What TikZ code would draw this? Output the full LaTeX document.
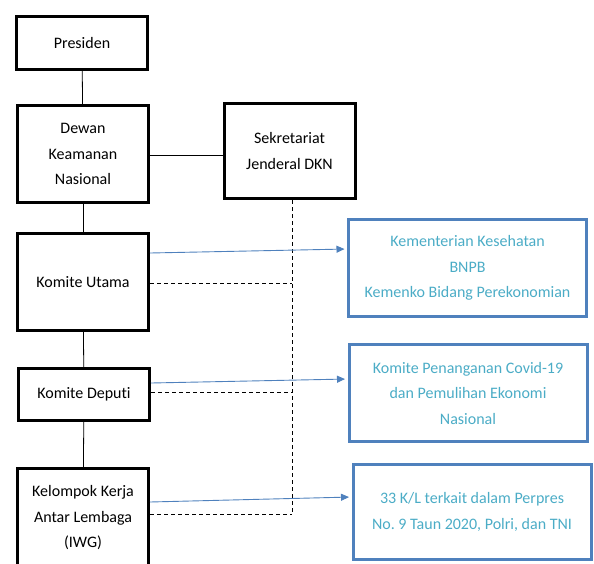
\documentclass[tikz,border=0pt]{standalone}
\usepackage{fontspec}
\setmainfont{Carlito}[Ligatures=NoCommon]
\frenchspacing
\usetikzlibrary{arrows.meta}
\definecolor{boxblue}{HTML}{4F81BD}
\definecolor{textblue}{HTML}{4BACC6}
\begin{document}
\begin{tikzpicture}[x=1pt, y=-1pt,
  every node/.style = {shape=rectangle, align=center,
    font=\fontsize{16}{25.5}\selectfont},
  unit/.style = {draw, line width=3pt, minimum width=131pt},
  agency/.style = {draw=boxblue, line width=3pt, text=textblue,
    minimum width=238pt, minimum height=97pt},
  feed/.style = {draw=boxblue, line width=0.9pt,
    -{Triangle[length=8pt,width=7pt]}, shorten >=2.5pt},
  link/.style = {draw, line width=0.8pt},
  aside/.style = {draw, line width=0.8pt, dash pattern=on 4pt off 3pt}]
  \useasboundingbox (0,0) rectangle (594,563);
  \clip (0,0) rectangle (594,563);

  \node[unit, minimum height=53pt] (pres) at (82,43) {Presiden};
  \node[unit, minimum height=97pt] (dewan) at (83,154) {Dewan\\Keamanan\\Nasional};
  \node[unit, minimum height=95pt] (sek) at (289.5,151) {Sekretariat\\Jenderal DKN};
  \node[unit, minimum height=97pt] (utama) at (83,282) {Komite Utama};
  \node[unit, minimum height=52pt] (deputi) at (84,394.5) {Komite Deputi};
  \node[unit, minimum height=99pt] (iwg) at (83,518) {Kelompok Kerja\\Antar Lembaga\\(IWG)};

  \node[agency] (kes) at (467.5,268) {Kementerian Kesehatan\\BNPB\\Kemenko Bidang Perekonomian};
  \node[agency] (kpc) at (468,393) {Komite Penanganan Covid-19\\dan Pemulihan Ekonomi\\Nasional};
  \node[agency, minimum height=95pt] (kl) at (472,512) {33 K/L terkait dalam Perpres\\No. 9 Taun 2020, Polri, dan TNI};

  \coordinate (spine) at (292,514);

  \draw[link] (pres) -- (dewan);
  \draw[link] (dewan) -- (utama);
  \draw[link] (utama) -- (deputi);
  \draw[link] (deputi) -- (iwg);
  \draw[link] ([yshift=-1pt]dewan.east) -- ([yshift=-1pt]dewan.east -| sek.west);

  \draw[aside] (sek.south -| spine) -- (spine);
  \draw[aside] ([yshift=-1.5pt]utama.east) -- ([yshift=-1.5pt]utama.east -| spine);
  \draw[aside] ([yshift=2.5pt]deputi.east) -- ([yshift=2.5pt]deputi.east -| spine);
  \draw[aside] ([yshift=4pt]iwg.east) -- (spine);

  \draw[feed] ([yshift=29pt]utama.east) -- ([yshift=19pt]kes.west);
  \draw[feed] ([yshift=11.5pt]deputi.east) -- ([yshift=14pt]kpc.west);
  \draw[feed] ([yshift=16pt]iwg.east) -- ([yshift=15pt]kl.west);
\end{tikzpicture}
\end{document}
